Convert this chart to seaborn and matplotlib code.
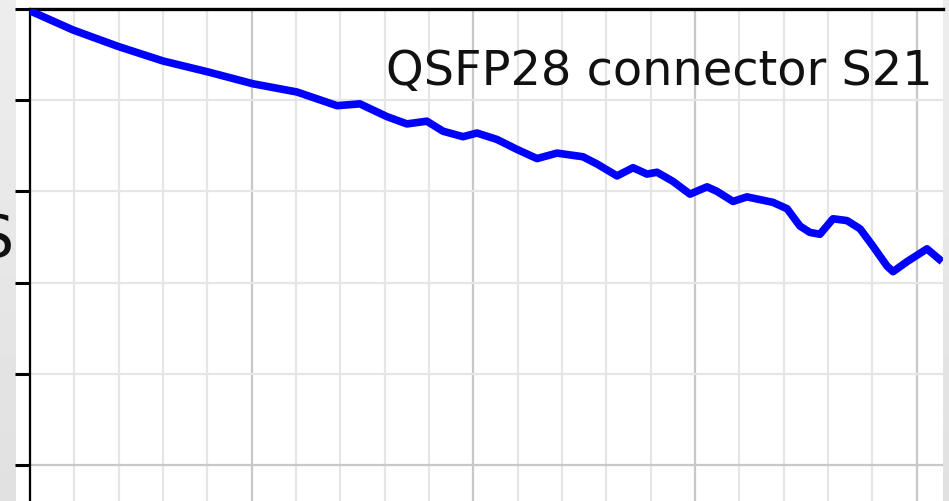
import numpy as np
import pandas as pd
import matplotlib
matplotlib.use("Agg")
import matplotlib.pyplot as plt
import seaborn as sns

# ---- data ----
freq_ghz = [0.0, 1.94, 3.97, 6.00, 8.03, 10.06, 12.04, 13.85, 14.88, 16.10,
            17.00, 17.90, 18.63, 19.53, 20.16, 21.06, 21.97, 22.87, 23.77, 24.94,
            25.58, 26.48, 27.20, 27.83, 28.28, 29.00, 29.77, 30.54, 30.99, 31.71,
            32.34, 33.51, 34.15, 34.73, 35.18, 35.63, 36.22, 36.85, 37.44, 38.02,
            38.66, 38.93, 39.56, 40.46, 41.14]
s21_db = [-0.02, -0.23, -0.41, -0.57, -0.69, -0.82, -0.91, -1.06, -1.04, -1.18,
          -1.26, -1.23, -1.34, -1.40, -1.36, -1.43, -1.54, -1.64, -1.58, -1.62,
          -1.70, -1.83, -1.74, -1.81, -1.79, -1.89, -2.03, -1.95, -2.00, -2.11,
          -2.06, -2.12, -2.19, -2.38, -2.45, -2.47, -2.30, -2.32, -2.41, -2.60,
          -2.82, -2.88, -2.77, -2.63, -2.77]
x_major = [0, 10, 20, 30, 40]
x_minor = [2, 4, 6, 8, 12, 14, 16, 18, 22, 24, 26, 28, 32, 34, 36, 38]
y_major = [0, -5]
y_minor = [-1, -2, -3, -4]
title = "QSFP28 connector S21"

df = pd.DataFrame({"freq": freq_ghz, "s21": s21_db})

sns.set_style("white")
W, H = 949, 502
fig = plt.figure(figsize=(W / 100, H / 100), dpi=100)
fig.patch.set_facecolor("white")

# grey side strips (background of the source slide)
grad = np.linspace(0.93, 0.88, 256).reshape(-1, 1)
for (x0, w) in [(0, 15), (943, 6)]:
    bax = fig.add_axes([x0 / W, 0, w / W, 1])
    bax.imshow(grad, aspect="auto", cmap="gray", vmin=0, vmax=1,
               extent=[0, 1, 0, 1])
    bax.set_axis_off()

ax = fig.add_axes([30 / W, 0, 913 / W, 492 / H])
sns.lineplot(data=df, x="freq", y="s21", ax=ax, color="#0000ff",
             linewidth=5.5, zorder=5, solid_joinstyle="round",
             solid_capstyle="butt")

ax.set_xlim(0, 913 / 22.17)
ax.set_ylim(-492 / 91.2, 0)
ax.set_xticks(x_major)
ax.set_xticks(x_minor, minor=True)
ax.set_yticks(y_major)
ax.set_yticks(y_minor, minor=True)
ax.set_xticklabels([])
ax.set_yticklabels([])
ax.set_xlabel("")
ax.set_ylabel("")

ax.grid(which="major", color="#c8c8c8", linewidth=1.6, zorder=0)
ax.grid(which="minor", color="#e6e6e6", linewidth=1.6, zorder=0)
ax.set_axisbelow(True)

ax.tick_params(axis="y", which="both", direction="out", length=10.5,
               width=2.2, color="black", left=True)
ax.tick_params(axis="x", which="both", length=0, bottom=False)

for side in ["right", "bottom"]:
    ax.spines[side].set_visible(False)
ax.spines["left"].set_color("black")
ax.spines["left"].set_linewidth(1.6)
ax.spines["top"].set_color("black")
ax.spines["top"].set_linewidth(2.4)

fig.text(933 / W, 1 - 85 / H, title, ha="right", va="baseline",
         fontsize=34.5, color="#111111", family="DejaVu Sans")
fig.text(13 / W, 1 - 257 / H, "S", ha="right", va="baseline",
         fontsize=42, color="#111111", family="DejaVu Sans")

fig.savefig("out.png", dpi=100)
